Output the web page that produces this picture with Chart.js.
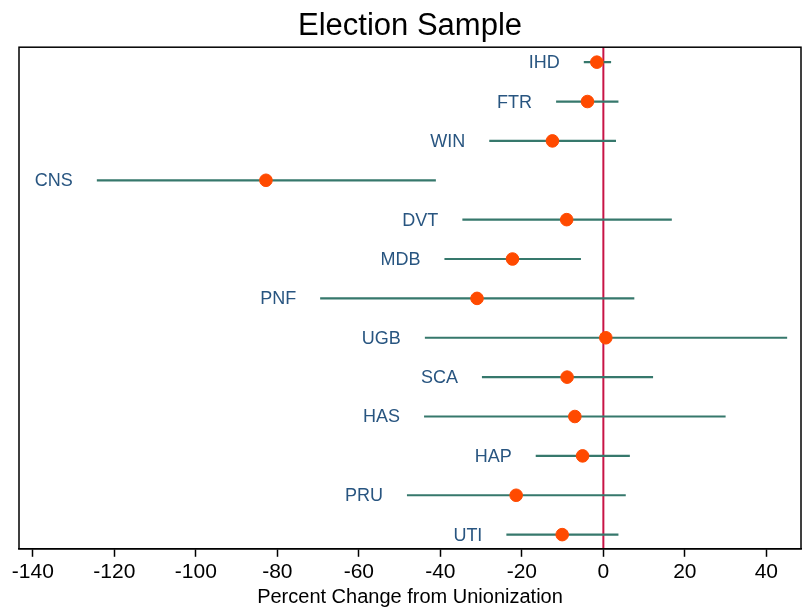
<!DOCTYPE html>
<html lang="en">
<head>
<meta charset="UTF-8" />
<title>Election Sample</title>
<script src="https://cdn.jsdelivr.net/npm/chart.js"></script>
<style>
    html, body { margin: 0; padding: 0; background: #fff; }
    #wrap { width: 803px; height: 611px; }
</style>
</head>
<body>
<div id="wrap"><canvas id="chart" width="803" height="611"></canvas></div>
<script>
    // Industries (top to bottom), point estimate and confidence interval
    const codes = ["IHD", "FTR", "WIN", "CNS", "DVT", "MDB", "PNF", "UGB", "SCA", "HAS", "HAP", "PRU", "UTI"];
    const estimates = [-1.6, -3.9, -12.5, -82.8, -9.0, -22.3, -31.0, 0.6, -8.9, -7.0, -5.1, -21.4, -10.1];
    const lower = [-4.8, -11.6, -28.0, -124.3, -34.6, -39.0, -69.5, -43.8, -29.8, -44.0, -16.6, -48.2, -23.8];
    const upper = [1.9, 3.7, 3.1, -41.1, 16.8, -5.5, 7.6, 45.1, 12.2, 30.0, 6.5, 5.5, 3.7];
    const xTicks = [-140, -120, -100, -80, -60, -40, -20, 0, 20, 40];

    const FONT = "'Liberation Sans', Arial, Helvetica, sans-serif";

    // interval segments, separated by gaps
    let ciPoints = [];
    codes.forEach((c, i) => {
        ciPoints.push({ x: lower[i], y: i });
        ciPoints.push({ x: upper[i], y: i });
        ciPoints.push({ x: NaN, y: NaN });
    });
    let estPoints = codes.map((c, i) => ({ x: estimates[i], y: i }));

    const yMin = -0.38, yMax = codes.length - 1 + 0.36;

    // frame around plot + industry labels left of each interval
    const decor = {
        id: "decor",
        afterDatasetsDraw(chart) {
            const ctx = chart.ctx;
            const a = chart.chartArea;
            const xs = chart.scales.x, ys = chart.scales.y;
            ctx.save();
            ctx.font = "18px " + FONT;
            ctx.fillStyle = "#285580";
            ctx.textAlign = "right";
            ctx.textBaseline = "middle";
            codes.forEach((c, i) => {
                ctx.fillText(c, xs.getPixelForValue(lower[i]) - 24, ys.getPixelForValue(i) + 1);
            });
            ctx.strokeStyle = "#000";
            ctx.lineWidth = 1.5;
            ctx.strokeRect(a.left, a.top, a.right - a.left, a.bottom - a.top);
            ctx.restore();
        }
    };

    new Chart(document.getElementById("chart"), {
        type: "scatter",
        data: {
            datasets: [
                {
                    type: "line",
                    data: [{ x: 0, y: yMin }, { x: 0, y: yMax }],
                    borderColor: "#c81446",
                    borderWidth: 2,
                    pointRadius: 0,
                    order: 3
                },
                {
                    type: "line",
                    data: ciPoints,
                    borderColor: "#36786c",
                    borderWidth: 2.2,
                    pointRadius: 0,
                    spanGaps: false,
                    order: 2
                },
                {
                    data: estPoints,
                    backgroundColor: "#ff4a00",
                    borderColor: "#ff4a00",
                    pointRadius: 6.3,
                    order: 1
                }
            ]
        },
        options: {
            responsive: false,
            animation: false,
            layout: { autoPadding: false, padding: { left: 19, right: 2, top: 0, bottom: 0 } },
            plugins: {
                legend: { display: false },
                tooltip: { enabled: false },
                title: {
                    display: true,
                    text: "Election Sample",
                    color: "#000",
                    font: { family: FONT, size: 31, weight: "normal" },
                    padding: { top: 8, bottom: 2 }
                }
            },
            scales: {
                x: {
                    type: "linear",
                    min: -143.4,
                    max: 48.5,
                    afterBuildTicks(axis) {
                        axis.ticks = xTicks.map(v => ({ value: v }));
                    },
                    afterFit(axis) {
                        axis.paddingLeft = 0;
                        axis.paddingRight = 0;
                    },
                    grid: {
                        drawOnChartArea: false,
                        drawTicks: true,
                        tickLength: 8,
                        color: "#000",
                        tickWidth: 1.5
                    },
                    border: { display: true, color: "#000", width: 1.5 },
                    ticks: {
                        color: "#000",
                        font: { family: FONT, size: 21 },
                        padding: 3,
                        maxRotation: 0
                    },
                    title: {
                        display: true,
                        text: "Percent Change from Unionization",
                        color: "#000",
                        font: { family: FONT, size: 20 },
                        padding: { top: -3, bottom: 2 }
                    }
                },
                y: {
                    type: "linear",
                    display: false,
                    reverse: true,
                    min: yMin,
                    max: yMax
                }
            }
        },
        plugins: [decor]
    });
</script>
</body>
</html>
